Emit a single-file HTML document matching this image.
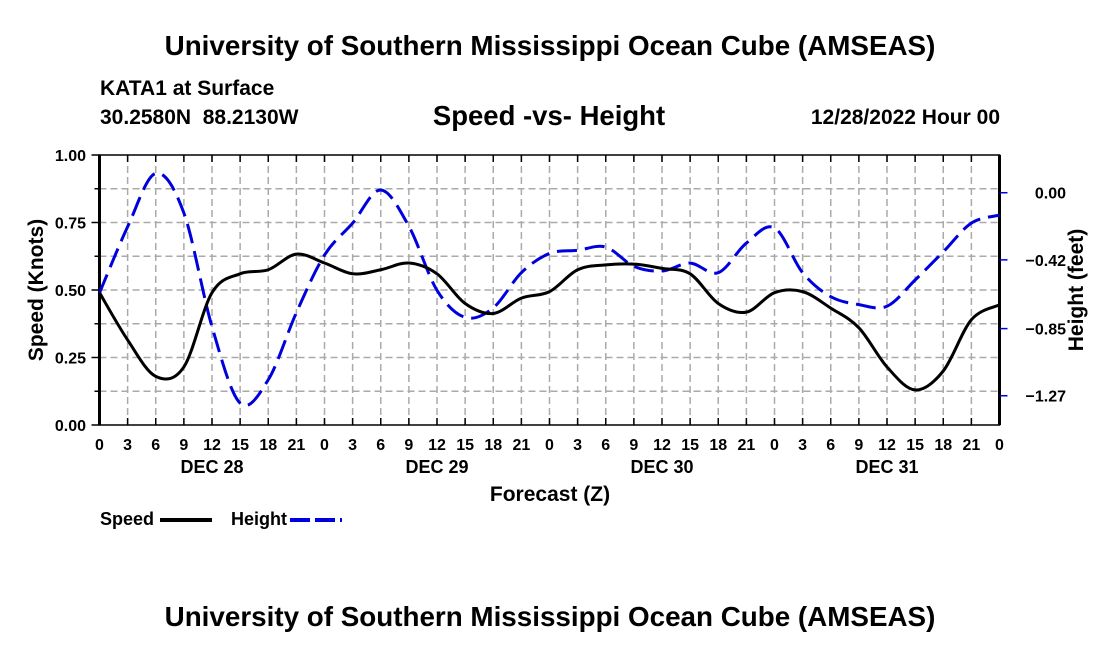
<!DOCTYPE html>
<html><head><meta charset="utf-8"><style>
body{margin:0;background:#fff;}
svg text{font-family:"Liberation Sans",Arial,sans-serif;font-weight:bold;fill:#000;}
</style></head><body>
<svg id="chart" width="1100" height="650" xmlns="http://www.w3.org/2000/svg">
<rect width="1100" height="650" fill="#fff"/>
<text x="550" y="55" font-size="27.8" text-anchor="middle">University of Southern Mississippi Ocean Cube (AMSEAS)</text>
<text x="100" y="95" font-size="21">KATA1 at Surface</text>
<text x="100" y="124" font-size="21" xml:space="preserve">30.2580N  88.2130W</text>
<text x="549" y="125" font-size="27.5" text-anchor="middle">Speed -vs- Height</text>
<text x="1000" y="124" font-size="21" text-anchor="end">12/28/2022 Hour 00</text>
<g id="grid"></g>
<g id="axes"></g>
<g id="series"></g>
<text transform="translate(43,290) rotate(-90)" font-size="21" text-anchor="middle">Speed (Knots)</text>
<text transform="translate(1083,290) rotate(-90)" font-size="21" text-anchor="middle">Height (feet)</text>
<text x="550" y="501" font-size="21" text-anchor="middle">Forecast (Z)</text>
<g>
<text x="100" y="525" font-size="18">Speed</text>
<line x1="160" y1="520" x2="212" y2="520" stroke="#000" stroke-width="4"/>
<text x="231" y="525" font-size="18">Height</text>
<line x1="290" y1="520" x2="342" y2="520" stroke="#0000dd" stroke-width="4" stroke-dasharray="20,5"/>
</g>
<text x="550" y="626" font-size="27.8" text-anchor="middle">University of Southern Mississippi Ocean Cube (AMSEAS)</text>
</svg>
<script>
const hours=[0,3,6,9,12,15,18,21,24,27,30,33,36,39,42,45,48,51,54,57,60,63,66,69,72,75,78,81,84,87,90,93,96];
const speed=[0.49,0.315,0.18,0.215,0.49,0.56,0.575,0.633,0.60,0.56,0.575,0.60,0.56,0.45,0.413,0.47,0.494,0.575,0.593,0.596,0.58,0.56,0.45,0.418,0.49,0.494,0.433,0.36,0.215,0.13,0.20,0.39,0.445];
const height=[-0.627,-0.213,0.121,-0.127,-0.838,-1.316,-1.17,-0.75,-0.39,-0.19,0.017,-0.21,-0.61,-0.78,-0.72,-0.50,-0.38,-0.36,-0.34,-0.46,-0.49,-0.44,-0.50,-0.315,-0.22,-0.50,-0.65,-0.70,-0.71,-0.546,-0.37,-0.19,-0.14];
const speedTicks=["0.00","0.25","0.50","0.75","1.00"];
const heightTicks=["0.00","-0.42","-0.85","-1.27"];
const dayLabels=["DEC 28","DEC 29","DEC 30","DEC 31"];
const X0=99.5,X1=999.5,Y0=425,Y1=155,HMIN=-1.453,HMAX=0.236;
const xs=h=>X0+(X1-X0)*h/96;
const ys=v=>Y0+(Y1-Y0)*v;
const yh=v=>Y0+(Y1-Y0)*(v-HMIN)/(HMAX-HMIN);
const NS="http://www.w3.org/2000/svg";
function mk(tag,attrs,parent){const e=document.createElementNS(NS,tag);for(const k in attrs)e.setAttribute(k,attrs[k]);parent.appendChild(e);return e;}
const grid=document.getElementById('grid'),axes=document.getElementById('axes'),series=document.getElementById('series');
for(let h=3;h<96;h+=3){const l=mk('line',{x1:xs(h),x2:xs(h),y1:Y1,y2:Y0,stroke:'#aaa','stroke-width':1.5,'stroke-dasharray':'7,4'},grid);

}
for(let i=1;i<8;i++){const l=mk('line',{x1:X0,x2:X1,y1:ys(i*0.125),y2:ys(i*0.125),stroke:'#aaa','stroke-width':1.5,'stroke-dasharray':'7,4'},grid);

}
const frame=mk('rect',{x:X0,y:Y1,width:X1-X0,height:Y0-Y1,fill:'none',stroke:'#000','stroke-width':1.5},axes);


mk('line',{x1:X0,x2:X0,y1:Y1,y2:Y0,stroke:'#000','stroke-width':3},axes);
mk('line',{x1:X1,x2:X1,y1:Y1,y2:Y0,stroke:'#000','stroke-width':3},axes);
for(let h=0;h<=96;h+=3){
mk('line',{x1:xs(h),x2:xs(h),y1:Y0,y2:Y0-7,stroke:'#000','stroke-width':1.5},axes);
mk('line',{x1:xs(h),x2:xs(h),y1:Y1,y2:Y1+7,stroke:'#000','stroke-width':1.5},axes);
const t=mk('text',{x:xs(h),y:450,'font-size':16,'text-anchor':'middle'},axes);t.textContent=String(h%24);

}
dayLabels.forEach((d,i)=>{const t=mk('text',{x:xs(12+24*i),y:473,'font-size':18,'text-anchor':'middle'},axes);t.textContent=d;

});
speedTicks.forEach((s,i)=>{const v=parseFloat(s);mk('line',{x1:X0-8,x2:X0,y1:ys(v),y2:ys(v),stroke:'#000','stroke-width':1.5},axes);
const t=mk('text',{x:86,y:ys(v)+6,'font-size':16,'text-anchor':'end'},axes);t.textContent=s;

});
for(let i=0;i<8;i++){if(i%2)mk('line',{x1:X0-5,x2:X0,y1:ys(i*0.125),y2:ys(i*0.125),stroke:'#000','stroke-width':1.5},axes);}
heightTicks.forEach(s=>{const v=parseFloat(s);mk('line',{x1:X1,x2:X1+8,y1:yh(v),y2:yh(v),stroke:'#0000dd','stroke-width':1.5},axes);
const t=mk('text',{x:1066,y:yh(v)+6,'font-size':16,'text-anchor':'end'},axes);t.textContent=s.replace('-','\u2212');

});
function smooth(pts){let d='M'+pts[0][0]+','+pts[0][1];for(let i=0;i<pts.length-1;i++){const p0=pts[Math.max(0,i-1)],p1=pts[i],p2=pts[i+1],p3=pts[Math.min(pts.length-1,i+2)];
d+=' C'+(p1[0]+(p2[0]-p0[0])/6)+','+(p1[1]+(p2[1]-p0[1])/6)+' '+(p2[0]-(p3[0]-p1[0])/6)+','+(p2[1]-(p3[1]-p1[1])/6)+' '+p2[0]+','+p2[1];}return d;}
const hp=mk('path',{d:smooth(hours.map((h,i)=>[xs(h),yh(height[i])])),fill:'none',stroke:'#0000dd','stroke-width':3,'stroke-dasharray':'20,8'},series);


const sp=mk('path',{d:smooth(hours.map((h,i)=>[xs(h),ys(speed[i])])),fill:'none',stroke:'#000','stroke-width':3},series);


</script>
</body></html>
